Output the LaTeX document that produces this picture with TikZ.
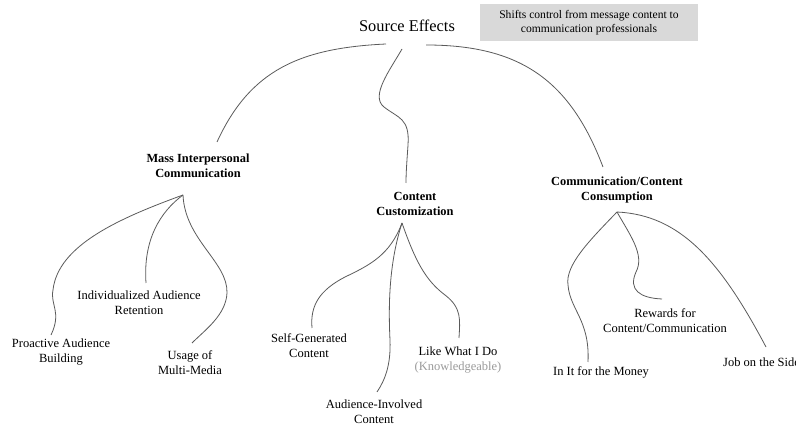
\documentclass[tikz,border=0pt]{standalone}
\usepackage{fontspec}
\setmainfont{Liberation Serif}
\definecolor{linegray}{HTML}{5A5A5A}
\definecolor{boxgray}{HTML}{D9D9D9}
\definecolor{softgray}{HTML}{9A9A9A}
\begin{document}
\begin{tikzpicture}[x=1pt,y=-1pt,
  lbl/.style={align=center,inner sep=0pt,font=\fontsize{12.5}{15}\selectfont},
  hdr/.style={align=center,inner sep=0pt,font=\fontsize{12.4}{15}\selectfont\bfseries},
  conn/.style={draw=linegray,line width=0.8pt}]
\useasboundingbox (0,0) rectangle (796,427);
\clip (0,0) rectangle (796,427);

% top
\node[inner sep=0pt,font=\fontsize{16.4}{19}\selectfont] (src) at (407,26) {Source Effects};
\node[fill=boxgray,minimum width=218pt,minimum height=37pt,inner sep=0pt,align=center,
      font=\fontsize{11.6}{14.5}\selectfont] (note) at (589,22.5)
      {Shifts control from message content to\\communication professionals};

% headers
\node[hdr] (mass) at (198,166) {Mass Interpersonal\\Communication};
\node[hdr] (cust) at (415,204) {Content\\Customization};
\node[hdr] (cons) at (617,190) {Communication/Content\\Consumption};

% leaves
\node[lbl] (pab) at (61,352) {Proactive Audience\\Building};
\node[lbl] (iar) at (139,303) {Individualized Audience\\Retention};
\node[lbl] (umm) at (190,363) {Usage of\\Multi-Media};
\node[lbl] (sgc) at (309,346) {Self-Generated\\Content};
\node[lbl] (aic) at (374,412) {Audience-Involved\\Content};
\node[lbl] (lwd) at (458,360) {Like What I Do\\\textcolor{softgray}{(Knowledgeable)}};
\node[lbl] (rcc) at (665,321) {Rewards for\\Content/Communication};
\node[lbl] (mon) at (601,372) {In It for the Money};
\node[lbl,anchor=west] (jos) at (723,362) {Job on the Side};

% connector points
\coordinate (s1) at (386,44);
\coordinate (s2) at (402,49);
\coordinate (s3) at (426,45);
\coordinate (massT) at (217,142);
\coordinate (custT) at (406,183);
\coordinate (consT) at (603,167);
\coordinate (massB) at (183,195);
\coordinate (custB) at (402,223);
\coordinate (consB) at (617,212);
\coordinate (pabT) at (51,335);
\coordinate (iarT) at (146,283);
\coordinate (ummT) at (192,343);
\coordinate (sgcT) at (312,328);
\coordinate (aicT) at (377,392);
\coordinate (lwdT) at (459,338);
\coordinate (monT) at (588,362);
\coordinate (rccT) at (662,299);
\coordinate (josT) at (766,347);

% top level connectors
\draw[conn] (s1) .. controls (300,48) and (250,70) .. (massT);
\draw[conn] (s2) .. controls (390,70) and (370,96) .. (384,107)
  .. controls (398,118) and (410,118) .. (408,145)
  .. controls (407,160) and (406,172) .. (custT);
\draw[conn] (s3) .. controls (520,45) and (570,80) .. (consT);

% mass branch
\draw[conn] (massB) .. controls (120,218) and (58,245) .. (53,290)
  .. controls (50,305) and (62,312) .. (pabT);
\draw[conn] (massB) .. controls (160,212) and (143,240) .. (iarT);
\draw[conn] (massB) .. controls (185,240) and (228,262) .. (227,293)
  .. controls (226,315) and (205,330) .. (ummT);

% customization branch
\draw[conn] (custB) .. controls (390,255) and (370,265) .. (345,277)
  .. controls (320,290) and (310,305) .. (sgcT);
\draw[conn] (custB) .. controls (390,260) and (388,300) .. (390,340)
  .. controls (391,365) and (385,380) .. (aicT);
\draw[conn] (custB) .. controls (415,260) and (425,280) .. (445,295)
  .. controls (462,308) and (460,320) .. (lwdT);

% consumption branch
\draw[conn] (consB) .. controls (590,240) and (565,265) .. (568,285)
  .. controls (570,310) and (590,320) .. (monT);
\draw[conn] (consB) .. controls (630,235) and (645,255) .. (636,272)
  .. controls (628,290) and (640,298) .. (rccT);
\draw[conn] (consB) .. controls (680,215) and (720,260) .. (josT);
\end{tikzpicture}
\end{document}
